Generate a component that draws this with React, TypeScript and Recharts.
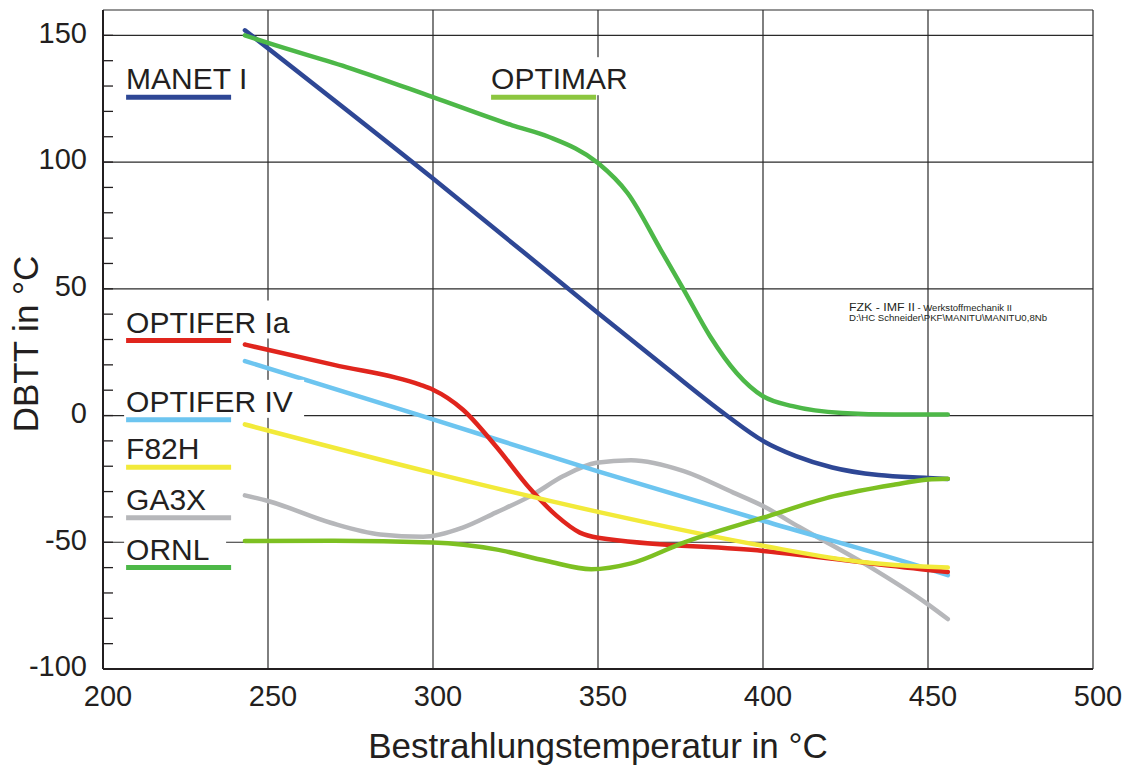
import React from "react";
import {
	LineChart,
	Line,
	XAxis,
	YAxis,
	CartesianGrid,
	ReferenceDot,
	Customized,
} from "recharts";

// Irradiation temperature (°C) and DBTT (°C) per alloy
const ga3xT = [243, 250, 269, 284, 297, 309, 319, 329.5, 339.5, 349.5, 360, 376, 391, 400, 411, 431.5, 450, 456];
const ga3xDbtt = [-31.5, -33.7, -42.3, -46.9, -47.8, -44.2, -38.3, -31.8, -23.9, -18.6, -17.6, -21.9, -30.4, -35.7, -44, -59, -74.5, -80.3];

const manetT = [243, 300, 350, 370, 389, 400, 410, 421, 435, 450, 456];
const manetDbtt = [152, 93.5, 40.5, 19.5, 0, -10, -16, -20.5, -23.5, -24.6, -25];

const optimarT = [243, 250, 275, 300, 324, 335, 350, 359, 369, 376, 384, 392, 400, 409, 424, 440, 456];
const optimarDbtt = [150, 147, 137, 125.6, 114.5, 110, 99.6, 87.7, 65.4, 49.6, 31.2, 16.8, 7.6, 3.7, 1, 0.4, 0.4];

const optifer4T = [243, 300, 350, 400, 450, 456];
const optifer4Dbtt = [21.5, -1.5, -22, -41.5, -60.5, -63];

const optifer1aT = [243, 270, 296, 300, 309, 319, 329.5, 337.5, 344.5, 350, 400, 450, 456];
const optifer1aDbtt = [28, 20, 12.2, 10.2, 2.4, -12, -29, -39.6, -46.2, -48.2, -53.4, -60.9, -61.7];

const f82hT = [243, 300, 350, 400, 431.5, 450, 456];
const f82hDbtt = [-3.5, -22.6, -38, -51.4, -58, -59.7, -60];

const ornlT = [243, 270, 300, 319, 334.5, 348, 360, 376, 400, 421.5, 440, 450, 456];
const ornlDbtt = [-49.5, -49.4, -50.1, -52.8, -57.4, -60.6, -58.3, -50.1, -40.3, -31.8, -27.2, -25.2, -24.9];

const xTicks = [200, 250, 300, 350, 400, 450, 500];
const yTicks = [-100, -90, -80, -70, -60, -50, -40, -30, -20, -10, 0, 10, 20, 30, 40, 50, 60, 70, 80, 90, 100, 110, 120, 130, 140, 150, 160];

const legendNames = ["MANET I", "OPTIMAR", "OPTIFER Ia", "OPTIFER IV", "F82H", "GA3X", "ORNL"];
const legendX = [207, 317.6, 207, 207, 207, 207, 207];
const legendY = [125.6, 125.6, 29.6, -1.7, -20.4, -40.3, -60];

const FONT = '"Liberation Sans", Arial, Helvetica, sans-serif';
const INK = "#231f20";

const series = [
	{ name: "GA3X", t: ga3xT, v: ga3xDbtt, color: "#b6b7ba" },
	{ name: "MANET I", t: manetT, v: manetDbtt, color: "#2e4795" },
	{ name: "OPTIMAR", t: optimarT, v: optimarDbtt, color: "#4db848" },
	{ name: "OPTIFER IV", t: optifer4T, v: optifer4Dbtt, color: "#6dc5f0" },
	{ name: "OPTIFER Ia", t: optifer1aT, v: optifer1aDbtt, color: "#e0251d" },
	{ name: "F82H", t: f82hT, v: f82hDbtt, color: "#f2ea3a" },
	{ name: "ORNL", t: ornlT, v: ornlDbtt, color: "#7dc022" },
];

// legend swatches (OPTIMAR / ORNL swatch colours are swapped on the sheet)
const legendStyle: Record<string, { color: string; box: number }> = {
	"MANET I": { color: "#2e4795", box: 128 },
	OPTIMAR: { color: "#8cc63f", box: 145 },
	"OPTIFER Ia": { color: "#e0251d", box: 176 },
	"OPTIFER IV": { color: "#6dc5f0", box: 180 },
	F82H: { color: "#f2ea3a", box: 95 },
	GA3X: { color: "#b6b7ba", box: 100 },
	ORNL: { color: "#4db848", box: 102 },
};

const YTick = (props: any) => {
	const { x, y, payload } = props;
	const v = payload.value;
	return (
		<g>
			{v > -100 && v < 160 && (
				<line x1={x} x2={x + 10} y1={y} y2={y} stroke={INK} strokeWidth={1.3} />
			)}
			{v % 50 === 0 && (
				<text
					x={x - 16}
					y={y - 3}
					dy="0.355em"
					textAnchor="end"
					fontSize={29}
					fontFamily={FONT}
					fill={INK}
				>
					{v}
				</text>
			)}
		</g>
	);
};

const XTick = (props: any) => {
	const { x, y, payload } = props;
	return (
		<text
			x={x + 5}
			y={y}
			dy="0.71em"
			textAnchor="middle"
			fontSize={29}
			fontFamily={FONT}
			fill={INK}
		>
			{payload.value}
		</text>
	);
};

const legendShape = (name: string) => (props: any) => {
	const { cx, cy } = props;
	const st = legendStyle[name];
	return (
		<g>
			<rect x={cx - 2} y={cy - 40} width={st.box} height={38} fill="#fff" />
			<text x={cx} y={cy - 8} fontSize={30} fontFamily={FONT} fill={INK}>
				{name}
			</text>
			<line
				x1={cx}
				x2={cx + 105}
				y1={cy}
				y2={cy}
				stroke={st.color}
				strokeWidth={5}
			/>
		</g>
	);
};

const Annotations = () => (
	<g fontFamily={FONT} fill={INK}>
		<text x={849} y={311} fontSize={11} textLength={163} lengthAdjust="spacingAndGlyphs">
			<tspan>FZK - IMF II</tspan>
			<tspan fontSize={8.5}> - Werkstoffmechanik II</tspan>
		</text>
		<text x={849} y={321} fontSize={8.5} textLength={198} lengthAdjust="spacingAndGlyphs">
			D:\HC Schneider\PKF\MANITU\MANITU0,8Nb
		</text>
		<text x={598} y={758} fontSize={35} textAnchor="middle">
			Bestrahlungstemperatur in °C
		</text>
		<text
			x={38}
			y={344}
			fontSize={35}
			textAnchor="middle"
			transform="rotate(-90 38 344)"
		>
			DBTT in °C
		</text>
	</g>
);

export default function App() {
	return (
		<div style={{ position: "absolute", left: 0, top: 0, width: 1122, height: 765, background: "#fff" }}>
			<LineChart
				width={1122}
				height={765}
				margin={{ top: 10, right: 29, bottom: 0, left: 0 }}
			>
				<CartesianGrid
					stroke="#2a2a2a"
					strokeWidth={1.2}
					horizontalValues={[-50, 0, 50, 100, 150, 160]}
					verticalValues={[250, 300, 350, 400, 450, 500]}
				/>
				<XAxis
					type="number"
					dataKey="t"
					domain={[200, 500]}
					ticks={xTicks}
					height={96}
					tickSize={0}
					tickMargin={16}
					tickLine={false}
					axisLine={{ stroke: INK, strokeWidth: 2 }}
					tick={<XTick />}
					allowDataOverflow
				/>
				<YAxis
					type="number"
					domain={[-100, 160]}
					ticks={yTicks}
					width={103}
					tickSize={0}
					tickMargin={0}
					tickLine={false}
					axisLine={{ stroke: INK, strokeWidth: 2 }}
					tick={<YTick />}
					interval={0}
					allowDataOverflow
				/>
				{legendNames.map((name, i) => (
					<ReferenceDot
						key={name}
						x={legendX[i]}
						y={legendY[i]}
						r={1}
						shape={legendShape(name)}
					/>
				))}
				{series.map((s) => (
					<Line
						key={s.name}
						name={s.name}
						data={s.t.map((t, i) => ({ t, v: s.v[i] }))}
						dataKey="v"
						type="monotone"
						stroke={s.color}
						strokeWidth={4.5}
						strokeLinecap="round"
						dot={false}
						activeDot={false}
						isAnimationActive={false}
					/>
				))}
				<Customized component={Annotations} />
			</LineChart>
		</div>
	);
}
